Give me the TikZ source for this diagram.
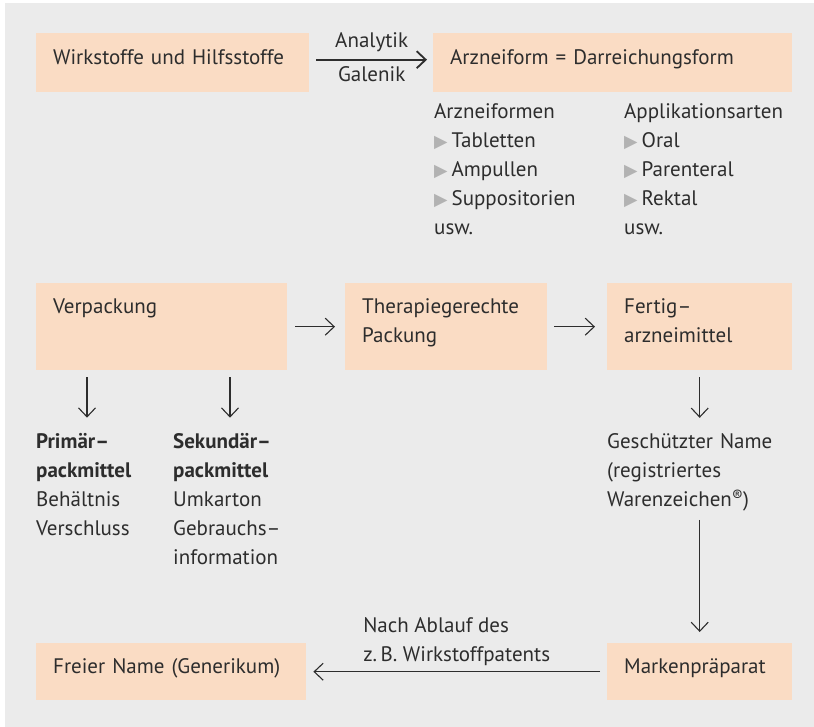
\documentclass[tikz,border=0pt]{standalone}
\usepackage{fontspec}
\setmainfont{PT Sans}
\newfontfamily\symfont{DejaVu Sans}
\usetikzlibrary{arrows.meta,positioning}

\definecolor{bggray}{RGB}{235,235,235}
\definecolor{peach}{RGB}{250,220,196}
\definecolor{ink}{RGB}{45,45,45}
\newcommand{\tri}{{\symfont\fontsize{17.5}{17.5}\selectfont\color{black!30}▶}\hspace{4pt}}
\newcommand{\regmark}{\raisebox{5pt}{\fontsize{16}{16}\selectfont ®}}

\begin{document}
\begin{tikzpicture}[x=1pt,y=-1pt,font=\fontsize{21}{29}\selectfont,text=ink,
    box/.style={fill=peach,anchor=north west,inner xsep=17pt,inner ysep=0pt,align=left,text height=30pt},
    txt/.style={anchor=base west,inner sep=0pt,align=left,text width=190pt},
    arr/.style={draw=ink,line width=1.1pt,-{Straight Barb[length=9pt,width=17pt]}}]
\useasboundingbox (0,0) rectangle (814,727);
\fill[bggray] (5,3) rectangle (814,727);

% boxes
\node[box,text width=239pt,text height=31pt,text depth=28pt] (wirk) at (36,33) {Wirkstoffe und Hilfsstoffe};
\node[box,text width=325pt,text height=31pt,text depth=28pt] (arz) at (433,33) {Arzneiform = Darreichungsform};
\node[box,text width=217pt,text depth=57pt] (verp) at (36,283) {Verpackung};
\node[box,text width=168pt,text depth=57pt] (ther) at (345,283) {Therapiegerechte\\Packung};
\node[box,text width=151pt,text depth=57pt] (fert) at (607,283) {Fertig–\\arzneimittel};
\node[box,text width=236pt,text depth=27pt] (frei) at (36,643) {Freier Name (Generikum)};
\node[box,text width=151pt,text depth=27pt] (mark) at (607,643) {Markenpräparat};

% lists
\node[txt] (formen) at (434,119) {Arzneiformen\\\tri Tabletten\\\tri Ampullen\\\tri Suppositorien\\usw.};
\node[txt] (appl) at (624,119) {Applikationsarten\\\tri Oral\\\tri Parenteral\\\tri Rektal\\usw.};
\node[txt] (prim) at (36,448) {\textbf{Primär–}\\\textbf{packmittel}\\Behältnis\\Verschluss};
\node[txt] (sek) at (173,448) {\textbf{Sekundär–}\\\textbf{packmittel}\\Umkarton\\Gebrauchs–\\information};
\node[txt,text width=185pt] (gesch) at (607,448) {Geschützter Name\\(registriertes\\Warenzeichen\regmark)};

% arrows
\draw[arr,line width=1.8pt] ([xshift=7pt,yshift=3pt]wirk.east) --
    node[above=7pt,inner sep=0pt] (ana) {Analytik}
    node[below=6pt,inner sep=0pt] (gal) {Galenik} ([xshift=-6pt,yshift=3pt]arz.west);
\draw[arr] ([xshift=8pt]verp.east) -- ([xshift=-10pt]ther.west);
\draw[arr] ([xshift=7pt]ther.east) -- ([xshift=-12pt]fert.west);
\draw[arr] ([xshift=51pt,yshift=-7pt]verp.south west) -- ([xshift=51pt,yshift=15pt]prim.north west);
\draw[arr] ([xshift=194pt,yshift=-7pt]verp.south west) -- ([xshift=57pt,yshift=15pt]sek.north west);
\draw[arr] ([yshift=-7pt]fert.south) -- ([yshift=15pt]gesch.north -| fert.south);
\draw[arr] ([yshift=-9pt]gesch.south -| fert.south) -- ([yshift=11pt]mark.north);
\draw[arr] ([xshift=-7pt]mark.west) --
    node[above=5pt,inner sep=0pt,align=left] (patent) {Nach Ablauf des\\z.\,B. Wirkstoffpatents} ([xshift=7pt]frei.east);
\end{tikzpicture}
\end{document}
